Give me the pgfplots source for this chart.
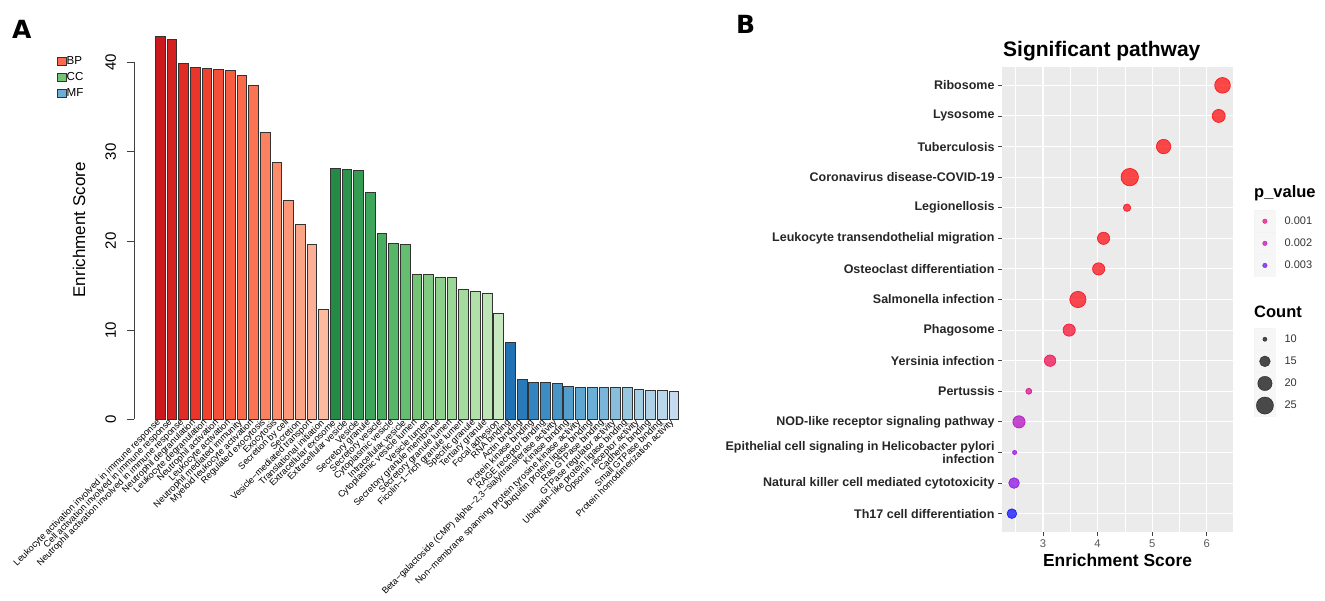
\documentclass[border=0pt]{standalone}
\usepackage{pgfplots}
\usepackage{pgfplotstable}
\pgfplotsset{compat=1.18}
\usepackage{fontspec}
\setmainfont{Liberation Sans}
\newfontfamily\heavyfont{DejaVu Sans}
\newcommand\fsz[2]{\fontsize{#1}{#2}\selectfont}

\definecolor{panelbg}{RGB}{235,235,235}
\definecolor{keybg}{RGB}{242,242,242}
\definecolor{bpcol}{RGB}{251,106,74}
\definecolor{cccol}{RGB}{116,196,118}
\definecolor{mfcol}{RGB}{107,174,214}

\pgfplotsset{
  bbar/.style={ybar, bar width=9.7pt, bar shift=0pt, draw=black!80, line width=0.6pt, fill={#1}, forget plot},
  legbox/.style={legend image code/.code={\draw[fill=#1, draw=black!80, line width=0.5pt] (0pt,-4pt) rectangle (9pt,4pt);}},
  pkey/.style={legend image code/.code={\fill[keybg] (0pt,-10.85pt) rectangle (21pt,10.85pt); \draw[##1] plot coordinates {(10.5pt,0pt)};}},
}

% pathway, y position, enrichment score, gene count, p value
\pgfplotstableread{
pos es count p
15 6.29 22 0.00001
14 6.22 18 0.00002
13 5.21 20 0.00003
12 4.59 25 0.00002
11 4.54 12 0.0001
10 4.11 17 0.0001
9 4.02 17 0.0001
8 3.64 23 0.0001
7 3.48 17 0.0003
6 3.13 16 0.0006
5 2.74 11 0.0013
4 2.56 17 0.0022
3 2.48 10 0.0027
2 2.47 15 0.0028
1 2.43 14 0.0036
}\pathwaydata

\begin{document}
\begin{tikzpicture}
\useasboundingbox (0pt,-601pt) rectangle (1325pt,0pt);
\node[anchor=north west, inner sep=0pt, font=\heavyfont\bfseries\fsz{25}{25}] at (12pt,-20pt) {A};
\node[anchor=north west, inner sep=0pt, font=\heavyfont\bfseries\fsz{25}{25}] at (736pt,-15pt) {B};

% ---------------- panel A: GO enrichment bars
\begin{axis}[
  at={(134pt,-419.3pt)}, anchor=south west,
  scale only axis, width=556pt, height=356.8pt,
  xmin=-2.245, xmax=45.4, ymin=0, ymax=40, clip=false,
  axis y line*=left, axis x line*=bottom,
  x axis line style={draw=none}, xtick style={draw=none},
  y axis line style={draw=black!75, line width=0.8pt},
  ytick style={draw=black!75, line width=0.8pt},
  tick align=outside, major tick length=6.5pt,
  /pgf/number format/assume math mode=true,
  ytick={0,10,20,30,40},
  yticklabel style={rotate=90, anchor=south, font=\fsz{15}{15}, yshift=8pt},
  ylabel={Enrichment Score},
  ylabel style={at={(axis description cs:-0.099,0.531)}, anchor=center, font=\fsz{17}{17}},
  xtick={0,...,44},
  xticklabels={Leukocyte activation involved in immune response, Cell activation involved in immune response, Neutrophil activation involved in immune response, Neutrophil degranulation, Leukocyte degranulation, Neutrophil activation, Leukocyte activation, Neutrophil mediated immunity, Myeloid leukocyte activation, Regulated exocytosis, Exocytosis, Secretion by cell, Secretion, Vesicle−mediated transport, Translational initiation,
    Extracellular exosome, Extracellular vesicle, Vesicle, Secretory granule, Secretory vesicle, Cytoplasmic vesicle, Intracellular vesicle, Cytoplasmic vesicle lumen, Vesicle lumen, Secretory granule membrane, Secretory granule lumen, Ficolin−1−rich granule lumen, Specific granule, Tertiary granule, Focal adhesion,
    RNA binding, Actin binding, Protein kinase binding, RAGE receptor binding, {Beta−galactoside (CMP) alpha−2,3−sialyltransferase activity}, Kinase binding, Non−membrane spanning protein tyrosine kinase activity, Ubiquitin protein ligase binding, Ras GTPase binding, GTPase regulator activity, Ubiquitin−like protein ligase binding, Opsonin receptor activity, Cadherin binding, Small GTPase binding, Protein homodimerization activity},
  xticklabel style={rotate=45, anchor=east, inner sep=0.5pt, font=\fsz{9.1}{10}, xshift=3pt, yshift=4pt},
  legend style={at={(axis description cs:-0.1394,1.019)}, anchor=north west, draw=none, fill=none,
    inner sep=0pt, row sep=5.5pt, font=\fsz{11.6}{12}, nodes={inner sep=0.5pt}},
  legend cell align=left,
]
% BP
\addplot[bbar={rgb,255:red,203;green,24;blue,29}] coordinates {(0,42.9)};
\addplot[bbar={rgb,255:red,213;green,34;blue,33}] coordinates {(1,42.65)};
\addplot[bbar={rgb,255:red,224;green,44;blue,38}] coordinates {(2,39.9)};
\addplot[bbar={rgb,255:red,234;green,54;blue,42}] coordinates {(3,39.45)};
\addplot[bbar={rgb,255:red,241;green,66;blue,48}] coordinates {(4,39.4)};
\addplot[bbar={rgb,255:red,244;green,79;blue,57}] coordinates {(5,39.2)};
\addplot[bbar={rgb,255:red,248;green,93;blue,65}] coordinates {(6,39.1)};
\addplot[bbar={rgb,255:red,251;green,106;blue,74}] coordinates {(7,38.6)};
\addplot[bbar={rgb,255:red,251;green,117;blue,85}] coordinates {(8,37.4)};
\addplot[bbar={rgb,255:red,252;green,129;blue,97}] coordinates {(9,32.2)};
\addplot[bbar={rgb,255:red,252;green,140;blue,108}] coordinates {(10,28.8)};
\addplot[bbar={rgb,255:red,252;green,152;blue,121}] coordinates {(11,24.6)};
\addplot[bbar={rgb,255:red,252;green,164;blue,134}] coordinates {(12,21.9)};
\addplot[bbar={rgb,255:red,252;green,175;blue,148}] coordinates {(13,19.6)};
\addplot[bbar={rgb,255:red,252;green,187;blue,161}] coordinates {(14,12.3)};
% CC
\addplot[bbar={rgb,255:red,35;green,139;blue,69}] coordinates {(15,28.1)};
\addplot[bbar={rgb,255:red,44;green,148;blue,76}] coordinates {(16,28.0)};
\addplot[bbar={rgb,255:red,52;green,157;blue,83}] coordinates {(17,27.9)};
\addplot[bbar={rgb,255:red,61;green,166;blue,90}] coordinates {(18,25.4)};
\addplot[bbar={rgb,255:red,72;green,175;blue,97}] coordinates {(19,20.9)};
\addplot[bbar={rgb,255:red,87;green,182;blue,104}] coordinates {(20,19.7)};
\addplot[bbar={rgb,255:red,101;green,189;blue,111}] coordinates {(21,19.6)};
\addplot[bbar={rgb,255:red,116;green,196;blue,118}] coordinates {(22,16.3)};
\addplot[bbar={rgb,255:red,129;green,202;blue,129}] coordinates {(23,16.2)};
\addplot[bbar={rgb,255:red,142;green,208;blue,139}] coordinates {(24,15.95)};
\addplot[bbar={rgb,255:red,154;green,214;blue,150}] coordinates {(25,15.95)};
\addplot[bbar={rgb,255:red,166;green,219;blue,160}] coordinates {(26,14.6)};
\addplot[bbar={rgb,255:red,177;green,224;blue,171}] coordinates {(27,14.4)};
\addplot[bbar={rgb,255:red,188;green,228;blue,181}] coordinates {(28,14.1)};
\addplot[bbar={rgb,255:red,199;green,233;blue,192}] coordinates {(29,11.9)};
% MF
\addplot[bbar={rgb,255:red,33;green,113;blue,181}] coordinates {(30,8.6)};
\addplot[bbar={rgb,255:red,42;green,122;blue,186}] coordinates {(31,4.5)};
\addplot[bbar={rgb,255:red,52;green,132;blue,191}] coordinates {(32,4.2)};
\addplot[bbar={rgb,255:red,61;green,141;blue,196}] coordinates {(33,4.1)};
\addplot[bbar={rgb,255:red,72;green,150;blue,200}] coordinates {(34,4.0)};
\addplot[bbar={rgb,255:red,84;green,158;blue,205}] coordinates {(35,3.7)};
\addplot[bbar={rgb,255:red,95;green,166;blue,209}] coordinates {(36,3.63)};
\addplot[bbar={rgb,255:red,107;green,174;blue,214}] coordinates {(37,3.6)};
\addplot[bbar={rgb,255:red,122;green,182;blue,217}] coordinates {(38,3.6)};
\addplot[bbar={rgb,255:red,136;green,190;blue,220}] coordinates {(39,3.6)};
\addplot[bbar={rgb,255:red,151;green,198;blue,223}] coordinates {(40,3.6)};
\addplot[bbar={rgb,255:red,164;green,204;blue,227}] coordinates {(41,3.4)};
\addplot[bbar={rgb,255:red,175;green,209;blue,231}] coordinates {(42,3.3)};
\addplot[bbar={rgb,255:red,186;green,214;blue,235}] coordinates {(43,3.3)};
\addplot[bbar={rgb,255:red,198;green,219;blue,239}] coordinates {(44,3.15)};
\addlegendimage{legbox=bpcol}\addlegendentry{BP}
\addlegendimage{legbox=cccol}\addlegendentry{CC}
\addlegendimage{legbox=mfcol}\addlegendentry{MF}
\end{axis}

% ---------------- panel B: KEGG bubble chart
\begin{axis}[
  at={(1002pt,-532pt)}, anchor=south west,
  scale only axis, width=231pt, height=465pt,
  xmin=2.249, xmax=6.482, ymin=0.4, ymax=15.6,
  axis background/.style={fill=panelbg},
  axis line style={draw=none},
  xtick={3,4,5,6}, minor xtick={2.5,3.5,4.5,5.5}, ytick={1,...,15},
  yticklabels={Th17 cell differentiation, Natural killer cell mediated cytotoxicity, {Epithelial cell signaling in Helicobacter pylori\\infection}, NOD-like receptor signaling pathway, Pertussis, Yersinia infection, Phagosome, Salmonella infection, Osteoclast differentiation, Leukocyte transendothelial migration, Legionellosis, Coronavirus disease-COVID-19, Tuberculosis, Lysosome, Ribosome},
  grid=both,
  major grid style={white, line width=1.1pt},
  minor grid style={white, line width=0.55pt},
  tick align=outside, xtick pos=left, ytick pos=left,
  major tick length=4pt, minor tick length=0pt,
  tick style={draw=black!75, line width=0.8pt},
  /pgf/number format/assume math mode=true,
  yticklabel style={font=\bfseries\fsz{12.5}{13.3}, text=black!85, align=right},
  xticklabel style={font=\fsz{11.2}{12}, text=black!65},
  xlabel={Enrichment Score},
  xlabel style={font=\bfseries\fsz{17.4}{18}, at={(axis description cs:0.5,-0.0602)}, anchor=center},
  title={Significant pathway},
  title style={font=\bfseries\fsz{21}{22}, at={(axis description cs:0,1.0387)}, anchor=west, inner sep=0pt, xshift=1pt, yshift=-8pt},
  colormap={pval}{rgb255=(255,0,0) rgb255=(232,0,110) rgb255=(200,0,170) rgb255=(150,0,220) rgb255=(0,0,255)},
  point meta min=0, point meta max=0.0036,
]
\addplot[scatter, only marks, mark=*, point meta=explicit,
  scatter/use mapped color={draw=mapped color, fill=mapped color},
  visualization depends on={\thisrow{count} \as \cnt},
  scatter/@pre marker code/.append style={/tikz/mark size={sqrt(max(4.8*\cnt-43.6,1))}},
  fill opacity=0.7, draw opacity=0.85, line width=0.6pt]
  table[x=es, y=pos, meta=p] {\pathwaydata};
\end{axis}

% p_value legend
\node[anchor=west, inner sep=0pt, font=\bfseries\fsz{16.5}{17}] at (1254pt,-193pt) {p\_value};
\begin{axis}[
  at={(1254pt,-210pt)}, anchor=north west, scale only axis, width=21pt, height=10pt,
  hide axis, xmin=0, xmax=1, ymin=0, ymax=1,
  legend style={at={(0,1)}, anchor=north west, draw=none, fill=none, inner sep=0pt, row sep=0pt,
    font=\fsz{11}{12}, text=black!80, nodes={inner sep=0pt},
    /tikz/every odd column/.style={column sep=9pt}},
  legend cell align=left,
]
\addlegendimage{pkey, only marks, mark=*, mark size=2.3pt, color={rgb,255:red,228;green,0;blue,117}, opacity=0.7}
\addlegendentry{0.001}
\addlegendimage{pkey, only marks, mark=*, mark size=2.3pt, color={rgb,255:red,189;green,0;blue,181}, opacity=0.7}
\addlegendentry{0.002}
\addlegendimage{pkey, only marks, mark=*, mark size=2.3pt, color={rgb,255:red,100;green,0;blue,232}, opacity=0.7}
\addlegendentry{0.003}
\end{axis}

% Count legend
\node[anchor=west, inner sep=0pt, font=\bfseries\fsz{16.5}{17}] at (1254pt,-312pt) {Count};
\begin{axis}[
  at={(1254pt,-328pt)}, anchor=north west, scale only axis, width=21pt, height=10pt,
  hide axis, xmin=0, xmax=1, ymin=0, ymax=1,
  legend style={at={(0,1)}, anchor=north west, draw=none, fill=none, inner sep=0pt, row sep=0pt,
    font=\fsz{11}{12}, text=black!80, nodes={inner sep=0pt},
    /tikz/every odd column/.style={column sep=9pt}},
  legend cell align=left,
]
\addlegendimage{pkey, only marks, mark=*, mark size=2.1pt, color=black, opacity=0.7}
\addlegendentry{10}
\addlegendimage{pkey, only marks, mark=*, mark size=5.4pt, color=black, opacity=0.7}
\addlegendentry{15}
\addlegendimage{pkey, only marks, mark=*, mark size=7.2pt, color=black, opacity=0.7}
\addlegendentry{20}
\addlegendimage{pkey, only marks, mark=*, mark size=8.6pt, color=black, opacity=0.7}
\addlegendentry{25}
\end{axis}
\end{tikzpicture}
\end{document}
